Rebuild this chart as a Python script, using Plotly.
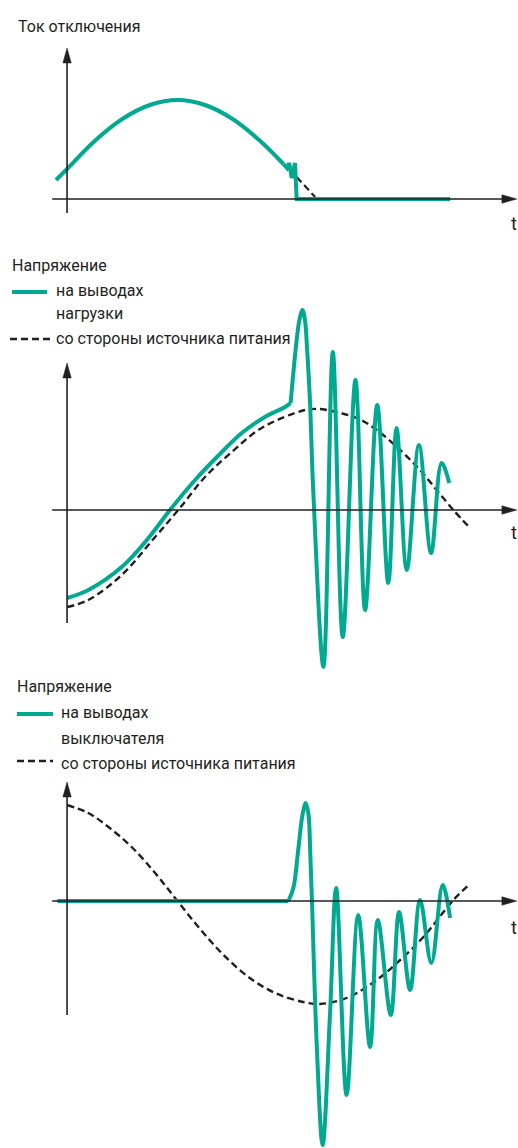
import plotly.graph_objects as go

GREEN = "#00A98F"
DARK = "#231F20"
FONT = "Roboto, Liberation Sans, sans-serif"
FSIZE = 16

# ---------------- data (t in ms, values in per-unit) ----------------
# Panel 1: breaking current
cur_t = [-0.40, 0.0, 1.0, 2.0, 3.0, 4.0, 5.0, 6.0, 7.0, 7.84]
cur_v = [0.19, 0.30, 0.58, 0.80, 0.94, 0.99, 0.94, 0.80, 0.58, 0.35]
chop_t = [7.84, 7.97, 8.05, 8.14, 8.26, 8.32, 13.88]
chop_v = [0.35, 0.31, 0.36, 0.21, 0.36, 0.0, 0.0]
cur_ext_t = [8.32, 8.99]
cur_ext_v = [0.22, 0.02]

# Panel 2: voltage at load terminals / source side
load_pre_t = [0.0, 0.77, 1.98, 2.95, 3.73, 4.64, 5.61, 6.33, 7.17, 7.90, 8.10]
load_pre_v = [-0.88, -0.80, -0.57, -0.28, 0.0, 0.30, 0.58, 0.77, 0.93, 1.03, 1.07]
load_t = [8.10, 8.32, 8.42, 8.53, 8.62, 8.70, 8.80, 8.92, 9.29, 9.63, 9.99, 10.45, 10.80,
          11.24, 11.64, 11.94, 12.31, 12.75, 13.19, 13.57, 13.85]
load_v = [1.07, 1.70, 1.90, 2.00, 1.90, 1.60, 1.10, 0.20, -1.57, 1.58, -1.27, 1.30, -1.00,
          1.05, -0.73, 0.82, -0.60, 0.65, -0.43, 0.47, 0.27]
src2_t = [0.0, 0.77, 1.98, 3.19, 4.03, 5.00, 5.97, 7.05, 8.62, 9.17, 9.41,
          10.50, 11.22, 12.07, 12.79, 13.39, 14.00, 14.60]
src2_v = [-0.97, -0.90, -0.65, -0.27, 0.0, 0.33, 0.58, 0.82, 1.00, 1.01, 1.00,
          0.92, 0.80, 0.60, 0.40, 0.20, 0.0, -0.18]

# Panel 3: voltage across breaker terminals / source side
brk_flat_t = [-0.35, 8.02]
brk_flat_v = [0.0, 0.0]
brk_t = [8.02, 8.20, 8.38, 8.53, 8.65, 8.75, 8.81, 8.88, 9.05, 9.26, 9.53, 9.75, 10.13,
         10.55, 10.98, 11.26, 11.73, 12.03, 12.43, 12.79, 13.20, 13.61, 13.88]
brk_v = [0.0, 0.13, 0.52, 0.86, 0.98, 0.86, 0.50, -0.05, -1.46, -2.44, -1.12, 0.13, -1.94,
         -0.14, -1.46, -0.19, -1.14, -0.11, -0.89, 0.01, -0.62, 0.16, -0.17]
src3_t = [0.0, 0.77, 1.50, 2.34, 3.19, 3.97, 4.76, 5.60, 6.57, 7.54, 8.56, 9.17,
          10.13, 11.22, 12.07, 12.91, 14.00, 14.60]
src3_v = [0.96, 0.88, 0.74, 0.54, 0.28, 0.01, -0.26, -0.52, -0.76, -0.92, -1.01, -1.03,
          -0.97, -0.79, -0.59, -0.36, 0.01, 0.17]

# texts
title1 = "Ток отключения"
title2 = "Напряжение"
leg2_a = ["на выводах", "нагрузки"]
leg3_a = ["на выводах", "выключателя"]
leg_b = "со стороны источника питания"
t_label = "t"

# ---------------- layout geometry ----------------
W, H = 518, 1148
X_RANGE = [-2.43, 16.34]
panels = [
    # (domain, yrange, y-axis bottom, y-axis tip)
    ([0.79094, 1.0], [-0.41, 1.99], -0.14, 1.51),
    ([0.40767, 0.79094], [-1.70, 2.70], -1.13, 1.47),
    ([0.0, 0.40767], [-2.47, 2.21], -1.14, 1.19),
]

fig = go.Figure()

def add_line(t, v, ax, color, width, dash="solid", shape="spline"):
    fig.add_trace(go.Scatter(
        x=t, y=v, mode="lines", xaxis="x" + ax, yaxis="y" + ax,
        line=dict(color=color, width=width, dash=dash, shape=shape, smoothing=1.0),
        hoverinfo="skip", showlegend=False))

DASH = "7px,4px"
# panel 1
add_line(cur_ext_t, cur_ext_v, "", DARK, 2.2, DASH, "linear")
add_line(cur_t, cur_v, "", GREEN, 4, shape="spline")
add_line(chop_t, chop_v, "", GREEN, 4, shape="linear")
# panel 2
add_line(src2_t, src2_v, "2", DARK, 2.4, DASH)
add_line(load_pre_t, load_pre_v, "2", GREEN, 4)
add_line(load_t, load_v, "2", GREEN, 4)
# panel 3
add_line(src3_t, src3_v, "3", DARK, 2.4, DASH)
add_line(brk_flat_t, brk_flat_v, "3", GREEN, 4, shape="linear")
add_line(brk_t, brk_v, "3", GREEN, 4)

layout = dict(width=W, height=H, margin=dict(l=0, r=0, t=0, b=0),
              paper_bgcolor="white", plot_bgcolor="white", showlegend=False)
shapes = []
annotations = []
ms_per_px = (X_RANGE[1] - X_RANGE[0]) / W
for i, (dom, yr, ybot, ytip) in enumerate(panels):
    sfx = "" if i == 0 else str(i + 1)
    layout["xaxis" + sfx] = dict(range=X_RANGE, domain=[0, 1], visible=False,
                                 anchor="y" + sfx, fixedrange=True)
    layout["yaxis" + sfx] = dict(range=yr, domain=dom, visible=False,
                                 anchor="x" + sfx, fixedrange=True)
    xr, yrf = "x" + sfx, "y" + sfx
    unit_per_px = (yr[1] - yr[0]) / ((dom[1] - dom[0]) * H)
    x_left = -0.54
    x_tip = 16.30
    head_len_x = 15 * ms_per_px
    head_len_y = 15 * unit_per_px
    hw_x = 4.2 * ms_per_px
    hw_y = 4.2 * unit_per_px
    # horizontal axis
    shapes.append(dict(type="line", xref=xr, yref=yrf, x0=x_left, x1=x_tip - head_len_x + 0.05,
                       y0=0, y1=0, line=dict(color=DARK, width=1.6)))
    shapes.append(dict(type="path", xref=xr, yref=yrf,
                       path=f"M{x_tip},0 L{x_tip - head_len_x},{hw_y} L{x_tip - head_len_x},{-hw_y} Z",
                       fillcolor=DARK, line=dict(color=DARK, width=0.5)))
    # vertical axis
    shapes.append(dict(type="line", xref=xr, yref=yrf, x0=0, x1=0,
                       y0=ybot, y1=ytip - head_len_y + 0.02, line=dict(color=DARK, width=1.6)))
    shapes.append(dict(type="path", xref=xr, yref=yrf,
                       path=f"M0,{ytip} L{hw_x},{ytip - head_len_y} L{-hw_x},{ytip - head_len_y} Z",
                       fillcolor=DARK, line=dict(color=DARK, width=0.5)))

def txt(s, px, py, size=FSIZE):
    annotations.append(dict(text=s, xref="paper", yref="paper", x=px / W, y=1 - py / H,
                            xanchor="left", yanchor="middle", showarrow=False,
                            font=dict(family=FONT, size=size, color=DARK)))

def leg_line(x0, x1, py, color, width, dash="solid"):
    shapes.append(dict(type="line", xref="paper", yref="paper", x0=x0 / W, x1=x1 / W,
                       y0=1 - py / H, y1=1 - py / H, line=dict(color=color, width=width, dash=dash)))

# panel 1 texts
txt(title1, 16, 26)
txt(t_label, 509, 224, 18)
# panel 2 texts
txt(title2, 10, 265)
leg_line(12, 47, 292, GREEN, 4)
txt(leg2_a[0], 54, 291)
txt(leg2_a[1], 54, 314)
leg_line(10, 50, 339, DARK, 2.4, DASH)
txt(leg_b, 54, 338)
txt(t_label, 509, 532, 18)
# panel 3 texts
txt(title2, 15, 686)
leg_line(17, 53, 714, GREEN, 4)
txt(leg3_a[0], 59, 712)
txt(leg3_a[1], 59, 738)
leg_line(17, 53, 761, DARK, 2.4, DASH)
txt(leg_b, 59, 763)
txt(t_label, 509, 927, 18)

layout["shapes"] = shapes
layout["annotations"] = annotations
fig.update_layout(**layout)

fig.write_html("out.html", config={"displayModeBar": False, "staticPlot": True},
               post_script="document.body.style.margin='0';")
